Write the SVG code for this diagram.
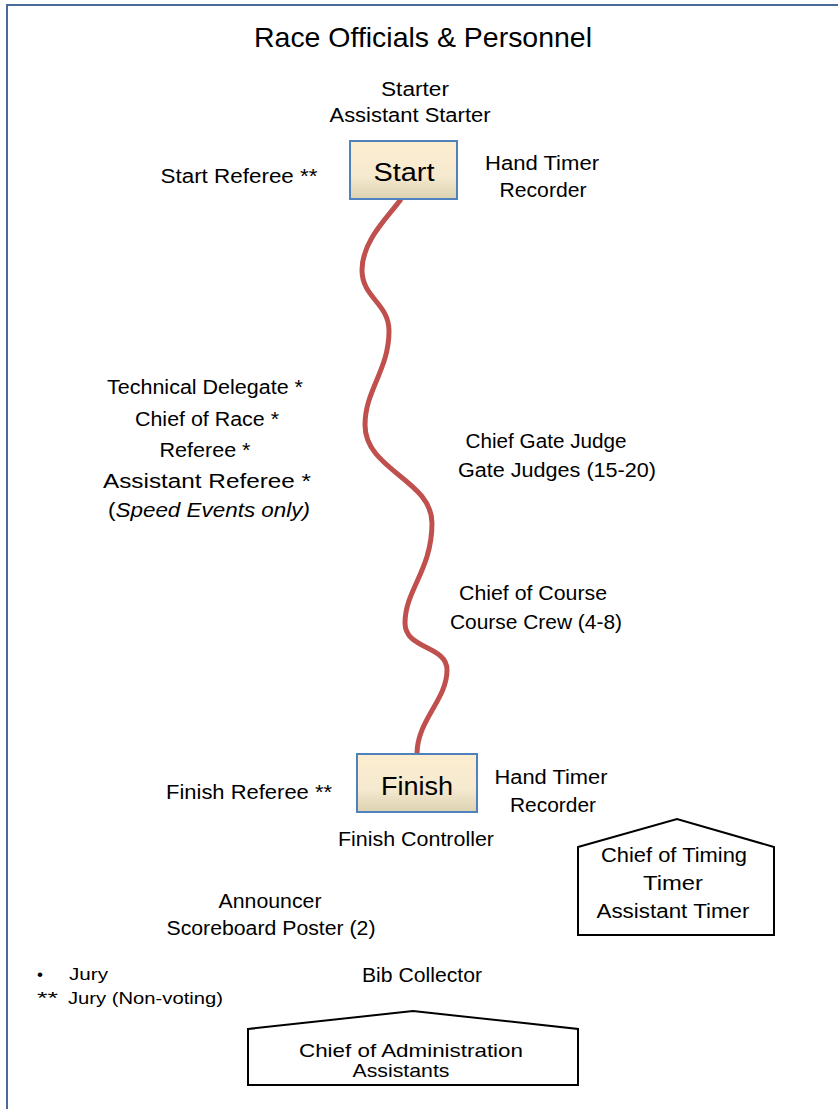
<svg xmlns="http://www.w3.org/2000/svg" width="838" height="1109" viewBox="0 0 838 1109">
<defs>
<linearGradient id="boxg" x1="0" y1="0" x2="0" y2="1">
<stop offset="0" stop-color="#fdeed0"/>
<stop offset="0.6" stop-color="#f5e9cf"/>
<stop offset="1" stop-color="#ddd2b2"/>
</linearGradient>
<style>
text{font-family:"Liberation Sans",Arial,sans-serif;font-size:20px;fill:#000;text-anchor:middle}
.title{font-size:28px}
.box{fill:url(#boxg);stroke:#4f81bd;stroke-width:2}
.big{font-size:25px}
.house{fill:#fff;stroke:#000;stroke-width:2}
.leg{font-size:17px;text-anchor:start}
.adm{font-size:18.5px}
</style>
</defs>
<rect x="0" y="0" width="838" height="1109" fill="#fff"/>
<rect x="7" y="5" width="845" height="1115" fill="none" stroke="#4a6a9a" stroke-width="2"/>
<text class="title" x="423" y="47" textLength="338" lengthAdjust="spacingAndGlyphs">Race Officials &amp; Personnel</text>

<g id="connectors">
<path d="M401,199 C390,215 362,240 362,270 C362,298 389,303 389,331 C389,370 365,390 365,425 C365,470 432,480 432,523 C432,570 405,590 405,623 C405,650 447,645 447,670 C447,700 417,720 417,754" fill="none" stroke="#c0504d" stroke-width="5"/>
</g>

<g id="start">
<rect class="box" x="350" y="141" width="107" height="58"/>
<text class="big" x="404" y="181" textLength="61" lengthAdjust="spacingAndGlyphs">Start</text>
</g>
<g id="start-labels">
<text x="415" y="96" textLength="68" lengthAdjust="spacingAndGlyphs">Starter</text>
<text x="410" y="122" textLength="161" lengthAdjust="spacingAndGlyphs">Assistant Starter</text>
<text x="239" y="183" textLength="157" lengthAdjust="spacingAndGlyphs">Start Referee **</text>
<text x="542" y="170" textLength="114" lengthAdjust="spacingAndGlyphs">Hand Timer</text>
<text x="543" y="197" textLength="87" lengthAdjust="spacingAndGlyphs">Recorder</text>
</g>

<g id="officials">
<text x="205" y="394" textLength="196" lengthAdjust="spacingAndGlyphs">Technical Delegate *</text>
<text x="207" y="426" textLength="144" lengthAdjust="spacingAndGlyphs">Chief of Race *</text>
<text x="205" y="457" textLength="91" lengthAdjust="spacingAndGlyphs">Referee *</text>
<text x="207" y="488" textLength="208" lengthAdjust="spacingAndGlyphs">Assistant Referee *</text>
<text x="209" y="517" textLength="202" lengthAdjust="spacingAndGlyphs">(<tspan font-style="italic">Speed Events only)</tspan></text>
</g>

<g id="gate-judges">
<text x="546" y="448" textLength="161" lengthAdjust="spacingAndGlyphs">Chief Gate Judge</text>
<text x="557" y="477" textLength="198" lengthAdjust="spacingAndGlyphs">Gate  Judges (15-20)</text>
</g>

<g id="course">
<text x="533" y="600" textLength="148" lengthAdjust="spacingAndGlyphs">Chief  of Course</text>
<text x="536" y="629" textLength="172" lengthAdjust="spacingAndGlyphs">Course Crew  (4-8)</text>
</g>

<g id="finish">
<rect class="box" x="357" y="754" width="120" height="58"/>
<text class="big" x="417" y="795" textLength="72" lengthAdjust="spacingAndGlyphs">Finish</text>
</g>
<g id="finish-labels">
<text x="249" y="799" textLength="166" lengthAdjust="spacingAndGlyphs">Finish Referee **</text>
<text x="551" y="784" textLength="113" lengthAdjust="spacingAndGlyphs">Hand Timer</text>
<text x="553" y="812" textLength="86" lengthAdjust="spacingAndGlyphs">Recorder</text>
<text x="416" y="846" textLength="156" lengthAdjust="spacingAndGlyphs">Finish Controller</text>
</g>

<g id="announcer">
<text x="270" y="908" textLength="103" lengthAdjust="spacingAndGlyphs">Announcer</text>
<text x="271" y="935" textLength="209" lengthAdjust="spacingAndGlyphs">Scoreboard Poster (2)</text>
</g>

<g id="bib">
<text x="422" y="982" textLength="120" lengthAdjust="spacingAndGlyphs">Bib Collector</text>
</g>

<g id="timing">
<polygon class="house" points="578,847 677,819 774,847 774,935 578,935"/>
<text x="674" y="862" textLength="146" lengthAdjust="spacingAndGlyphs">Chief of Timing</text>
<text x="673" y="890" textLength="60" lengthAdjust="spacingAndGlyphs">Timer</text>
<text x="673" y="918" textLength="153" lengthAdjust="spacingAndGlyphs">Assistant Timer</text>
</g>

<g id="administration">
<polygon class="house" points="248,1029 413,1011 578,1029 578,1085 248,1085"/>
<text class="adm" x="411" y="1057" textLength="224" lengthAdjust="spacingAndGlyphs">Chief of Administration</text>
<text class="adm" x="401" y="1077" textLength="97" lengthAdjust="spacingAndGlyphs">Assistants</text>
</g>

<g id="legend">
<text class="leg" x="37" y="980">•</text>
<text class="leg" x="69" y="980" textLength="39" lengthAdjust="spacingAndGlyphs">Jury</text>
<text class="leg" x="37" y="1004" textLength="21" lengthAdjust="spacingAndGlyphs">**</text>
<text class="leg" x="68" y="1004" textLength="155" lengthAdjust="spacingAndGlyphs">Jury (Non-voting)</text>
</g>
</svg>
